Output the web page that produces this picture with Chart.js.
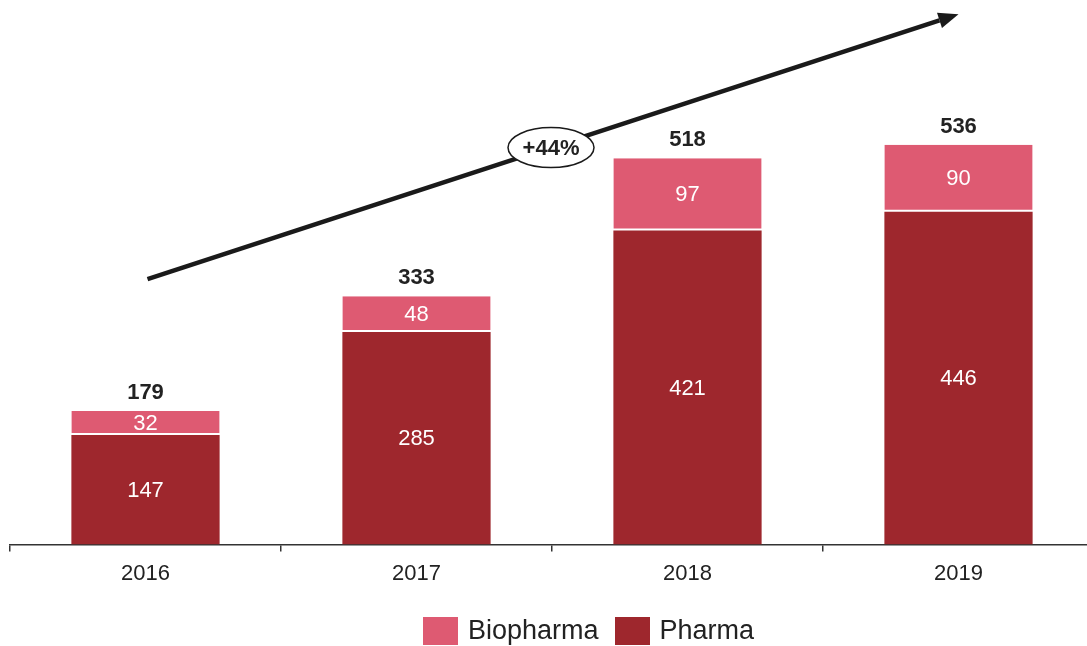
<!DOCTYPE html>
<html>
<head>
<meta charset="utf-8">
<script src="https://cdn.jsdelivr.net/npm/chart.js@4.4.1/dist/chart.umd.min.js"></script>
<style>
  html, body { margin: 0; padding: 0; background: #fff; overflow: hidden; }
  #wrap { position: relative; width: 1087px; height: 646px; overflow: hidden; }
  #legend { position: absolute; top: 615px; left: 423px; display: flex; align-items: center;
            font-family: Arial, "Liberation Sans", sans-serif; font-size: 27px; color: #222; }
  #legend .item { display: flex; align-items: center; margin-right: 16px; }
  #legend .box { width: 35px; height: 28px; margin-right: 10px; }
</style>
</head>
<body>
<div id="wrap">
  <canvas id="chart" width="1100" height="646"></canvas>
  <div id="legend"></div>
</div>
<script>
// data
const years = ['2016', '2017', '2018', '2019'];
const pharma = [147, 285, 421, 446];
const biopharma = [32, 48, 97, 90];
const totals = [179, 333, 518, 536];

// trend arrow (value units on the y scale), from first to last year
const trendFrom = 356;
const trendTo = 711;
const trendLabel = '+44%';

const pinkColor = '#DE5A72';
const darkColor = '#9E272D';
const fontFamily = 'Arial, "Liberation Sans", sans-serif';

// Values inside segments and totals above the bars
const labelPlugin = {
    id: 'barLabels',
    afterDatasetsDraw(chart) {
        const ctx = chart.ctx;
        ctx.save();
        ctx.textAlign = 'center';
        ctx.textBaseline = 'middle';
        ctx.font = '22px ' + fontFamily;
        ctx.fillStyle = '#fff';
        chart.data.datasets.forEach((ds, i) => {
            const meta = chart.getDatasetMeta(i);
            meta.data.forEach((bar, j) => {
                const p = bar.getProps(['x', 'y', 'base'], true);
                ctx.fillText(String(ds.data[j]), p.x, (p.y + p.base) / 2 + 1);
            });
        });
        const topMeta = chart.getDatasetMeta(chart.data.datasets.length - 1);
        ctx.font = 'bold 22px ' + fontFamily;
        ctx.fillStyle = '#222';
        topMeta.data.forEach((bar, j) => {
            const p = bar.getProps(['x', 'y'], true);
            ctx.fillText(String(totals[j]), p.x, p.y - 18);
        });
        ctx.restore();
    }
};

// Growth arrow with the ellipse label
const arrowPlugin = {
    id: 'trendArrow',
    afterDatasetsDraw(chart) {
        const ctx = chart.ctx;
        const xs = chart.scales.x, ys = chart.scales.y;
        const x1 = xs.getPixelForValue(0) + 2, y1 = ys.getPixelForValue(trendFrom);
        const x2 = xs.getPixelForValue(years.length - 1), y2 = ys.getPixelForValue(trendTo);
        const ang = Math.atan2(y2 - y1, x2 - x1);
        const headLen = 20, headW = 8;
        const bx = x2 - headLen * Math.cos(ang), by = y2 - headLen * Math.sin(ang);
        ctx.save();
        ctx.strokeStyle = '#1a1a1a';
        ctx.fillStyle = '#1a1a1a';
        ctx.lineWidth = 4.5;
        ctx.beginPath();
        ctx.moveTo(x1, y1);
        ctx.lineTo(bx, by);
        ctx.stroke();
        ctx.beginPath();
        ctx.moveTo(x2, y2);
        ctx.lineTo(bx + headW * Math.sin(ang), by - headW * Math.cos(ang));
        ctx.lineTo(bx - headW * Math.sin(ang), by + headW * Math.cos(ang));
        ctx.closePath();
        ctx.fill();

        // label ellipse around the middle of the line
        const t = 0.5;
        const cx = x1 + (x2 - x1) * t - 2, cy = y1 + (y2 - y1) * t + 1;
        ctx.beginPath();
        ctx.ellipse(cx, cy, 43, 20, 0, 0, Math.PI * 2);
        ctx.fillStyle = '#fff';
        ctx.fill();
        ctx.lineWidth = 1.5;
        ctx.strokeStyle = '#1a1a1a';
        ctx.stroke();
        ctx.fillStyle = '#222';
        ctx.font = 'bold 22px ' + fontFamily;
        ctx.textAlign = 'center';
        ctx.textBaseline = 'middle';
        ctx.fillText(trendLabel, cx, cy + 1);
        ctx.restore();
    }
};

const chart = new Chart(document.getElementById('chart'), {
    type: 'bar',
    data: {
        labels: years,
        datasets: [
            {
                label: 'Pharma',
                data: pharma,
                backgroundColor: darkColor,
                borderWidth: 0,
                barPercentage: 0.547,
                categoryPercentage: 1
            },
            {
                label: 'Biopharma',
                data: biopharma,
                backgroundColor: pinkColor,
                borderColor: '#fff',
                borderWidth: { top: 0, left: 0, right: 0, bottom: 2 },
                borderSkipped: false,
                barPercentage: 0.547,
                categoryPercentage: 1
            }
        ]
    },
    options: {
        responsive: false,
        animation: false,
        layout: { padding: { left: 10, right: 6, top: 0, bottom: 50 } },
        plugins: {
            legend: { display: false },
            tooltip: { enabled: false }
        },
        scales: {
            x: {
                stacked: true,
                grid: {
                    display: true,
                    offset: true,
                    drawOnChartArea: false,
                    drawTicks: true,
                    tickLength: 7,
                    color: '#333',
                    lineWidth: 1.5
                },
                border: { display: true, color: '#333', width: 1.5 },
                ticks: {
                    color: '#222',
                    padding: 9,
                    font: { family: fontFamily, size: 22 }
                }
            },
            y: {
                stacked: true,
                display: false,
                min: 0,
                max: 730
            }
        }
    },
    plugins: [labelPlugin, arrowPlugin]
});

// legend: Biopharma first, then Pharma
const legendEl = document.getElementById('legend');
[1, 0].forEach(i => {
    const ds = chart.data.datasets[i];
    const item = document.createElement('div');
    item.className = 'item';
    item.innerHTML = '<div class="box" style="background:' + ds.backgroundColor + '"></div><span>' + ds.label + '</span>';
    legendEl.appendChild(item);
});
</script>
</body>
</html>
